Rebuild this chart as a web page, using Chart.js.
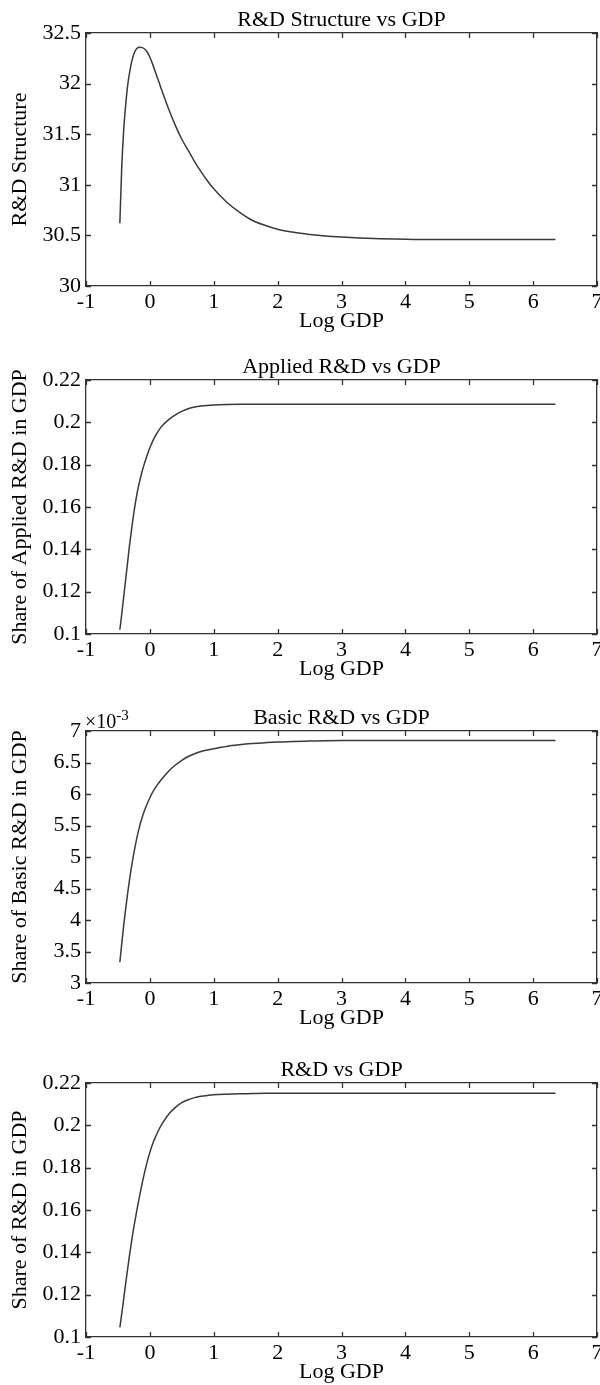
<!DOCTYPE html>
<html>
<head>
<meta charset="utf-8">
<script src="https://cdn.jsdelivr.net/npm/chart.js@4.4.1/dist/chart.umd.min.js"></script>
<style>
  html, body { margin: 0; padding: 0; background: #fff; }
  #wrap { position: relative; width: 600px; height: 1385px; overflow: hidden; }
  #wrap canvas { position: absolute; left: 0; }
</style>
</head>
<body>
<div id="wrap">
  <canvas id="c1" width="600" height="334" style="top:0px"></canvas>
  <canvas id="c2" width="600" height="335" style="top:347px"></canvas>
  <canvas id="c3" width="600" height="333" style="top:698px"></canvas>
  <canvas id="c4" width="600" height="335" style="top:1050px"></canvas>
</div>
<script>
// log GDP grid shared by all four curves
const logGdp = [-0.47, -0.44, -0.41, -0.38, -0.35, -0.32, -0.28, -0.24, -0.2, -0.16, -0.12, -0.08,
  -0.04, 0, 0.05, 0.1, 0.15, 0.2, 0.3, 0.4, 0.5, 0.6, 0.7, 0.8, 0.9, 1.0, 1.2, 1.4, 1.6, 1.8,
  2.0, 2.25, 2.5, 2.75, 3.0, 3.5, 4.0, 4.5, 5.0, 5.5, 6.0, 6.35];

const rdStructure = [30.62, 31.18, 31.54, 31.78, 31.97, 32.10, 32.23, 32.31, 32.35, 32.36, 32.355,
  32.34, 32.31, 32.26, 32.18, 32.09, 32.00, 31.91, 31.74, 31.585, 31.45, 31.34, 31.23, 31.13, 31.04,
  30.96, 30.83, 30.73, 30.65, 30.60, 30.56, 30.53, 30.51, 30.495, 30.485, 30.47, 30.463, 30.46,
  30.46, 30.46, 30.46, 30.46];

const appliedShare = [0.102, 0.1095, 0.1175, 0.1255, 0.1335, 0.1415, 0.151, 0.1595, 0.1665, 0.1722,
  0.177, 0.181, 0.1847, 0.188, 0.1915, 0.1943, 0.1967, 0.1986, 0.2014, 0.2035, 0.2052, 0.2064,
  0.2072, 0.2077, 0.208, 0.2082, 0.2084, 0.2085, 0.2085, 0.2085, 0.2085, 0.2085, 0.2085, 0.2085,
  0.2085, 0.2085, 0.2085, 0.2085, 0.2085, 0.2085, 0.2085, 0.2085];

const basicShare = [0.00333, 0.00363, 0.00391, 0.00417, 0.00441, 0.00463, 0.00489, 0.00512,
  0.00532, 0.00549, 0.00563, 0.00575, 0.00585, 0.00594, 0.00604, 0.00612, 0.00619, 0.006255,
  0.00637, 0.00646, 0.006535, 0.006595, 0.00664, 0.006675, 0.00670, 0.00672, 0.006755, 0.00678,
  0.00680, 0.006815, 0.006825, 0.006835, 0.00684, 0.006845, 0.006848, 0.00685, 0.00685, 0.00685,
  0.00685, 0.00685, 0.00685, 0.00685];

const rdShare = [0.1045, 0.111, 0.118, 0.125, 0.1317, 0.1383, 0.1465, 0.1538, 0.1605, 0.1668,
  0.1727, 0.1781, 0.183, 0.1873, 0.1918, 0.1953, 0.1985, 0.2012, 0.2055, 0.2085, 0.2107, 0.2121,
  0.2131, 0.2137, 0.2141, 0.2144, 0.2147, 0.2149, 0.215, 0.2151, 0.2151, 0.2151, 0.2151, 0.2151,
  0.2151, 0.2151, 0.2151, 0.2151, 0.2151, 0.2151, 0.2151, 0.2151];

const xMin = -1, xMax = 7, xStep = 1;

const FONT = '"Liberation Serif", "Times New Roman", serif';
const INK = '#333';
Chart.defaults.font.family = FONT;
Chart.defaults.font.size = 22;
Chart.defaults.color = '#000';

const trim = (v) => String(+v.toFixed(4));

// short tick marks pointing into the box, on all four sides
const insideTicks = {
  id: 'insideTicks',
  afterDraw(chart) {
    const { ctx, chartArea: a, scales } = chart;
    const len = 5;
    ctx.save();
    ctx.strokeStyle = INK;
    ctx.lineWidth = 1.3;
    ctx.beginPath();
    scales.x.ticks.forEach((t) => {
      const px = Math.round(scales.x.getPixelForValue(t.value)) + 0.5;
      ctx.moveTo(px, a.bottom); ctx.lineTo(px, a.bottom - len);
      ctx.moveTo(px, a.top); ctx.lineTo(px, a.top + len);
    });
    scales.y.ticks.forEach((t) => {
      const py = Math.round(scales.y.getPixelForValue(t.value)) + 0.5;
      ctx.moveTo(a.left, py); ctx.lineTo(a.left + len, py);
      ctx.moveTo(a.right, py); ctx.lineTo(a.right - len, py);
    });
    ctx.stroke();
    ctx.restore();
  }
};

// "x10^-3" multiplier written above the top-left corner
const exponentNote = {
  id: 'exponentNote',
  afterDraw(chart) {
    const { ctx, chartArea } = chart;
    ctx.save();
    ctx.fillStyle = '#000';
    ctx.textBaseline = 'alphabetic';
    ctx.font = '20px ' + FONT;
    ctx.fillText('\u00d710', chartArea.left - 1, chartArea.top - 3);
    const w = ctx.measureText('\u00d710').width;
    ctx.font = '15px ' + FONT;
    ctx.fillText('-3', chartArea.left - 1 + w, chartArea.top - 11);
    ctx.restore();
  }
};

function boxScale(position, opts) {
  return Object.assign({
    type: 'linear',
    position: position,
    border: { display: true, color: INK, width: 1.3 },
    grid: { display: false, drawTicks: false },
  }, opts);
}

function makePanel(id, title, yLabel, values, yMin, yMax, yStep, fmt, extraPlugins) {
  const points = logGdp.map((x, i) => ({ x: x, y: values[i] }));
  return new Chart(document.getElementById(id), {
    type: 'line',
    data: {
      datasets: [{
        data: points,
        borderColor: '#3a3a3a',
        borderWidth: 1.5,
        pointRadius: 0,
        cubicInterpolationMode: 'monotone',
        fill: false,
      }],
    },
    options: {
      responsive: false,
      animation: false,
      devicePixelRatio: 1,
      layout: { padding: 0 },
      plugins: { legend: { display: false }, tooltip: { enabled: false } },
      scales: {
        x: boxScale('bottom', {
          min: xMin, max: xMax,
          ticks: { stepSize: xStep, padding: 3, maxRotation: 0, callback: trim },
          title: { display: true, text: 'Log GDP', font: { size: 22 }, padding: { top: 0, bottom: 0 } },
          afterFit(s) { s.height = 48; s.paddingLeft = 0; s.paddingRight = 0; },
        }),
        xTop: boxScale('top', {
          min: xMin, max: xMax,
          ticks: { display: false },
          title: { display: true, text: title, font: { size: 22 }, padding: { top: 7, bottom: 0 } },
          afterFit(s) { s.height = 33; s.paddingLeft = 0; s.paddingRight = 0; },
        }),
        y: boxScale('left', {
          min: yMin, max: yMax,
          ticks: { stepSize: yStep, padding: 5, callback: fmt },
          title: { display: true, text: yLabel, font: { size: 22 }, padding: { top: 7, bottom: 0 } },
          afterFit(s) { s.width = 86; s.paddingTop = 0; s.paddingBottom = 0; },
        }),
        yRight: boxScale('right', {
          min: yMin, max: yMax,
          ticks: { display: false },
          afterFit(s) { s.width = 3; s.paddingTop = 0; s.paddingBottom = 0; },
        }),
      },
    },
    plugins: [insideTicks].concat(extraPlugins || []),
  });
}

makePanel('c1', 'R&D Structure vs GDP', 'R&D Structure', rdStructure, 30, 32.5, 0.5, trim);
makePanel('c2', 'Applied R&D vs GDP', 'Share of Applied R&D in GDP', appliedShare, 0.1, 0.22, 0.02, trim);
makePanel('c3', 'Basic R&D vs GDP', 'Share of Basic R&D in GDP', basicShare, 0.003, 0.007, 0.0005,
  (v) => trim(v * 1000), [exponentNote]);
makePanel('c4', 'R&D vs GDP', 'Share of R&D in GDP', rdShare, 0.1, 0.22, 0.02, trim);
</script>
</body>
</html>
